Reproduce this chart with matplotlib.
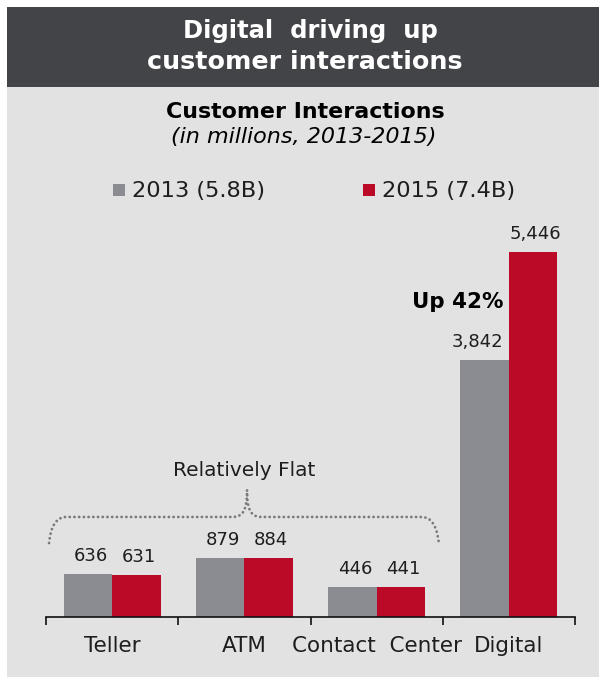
import matplotlib
matplotlib.use("Agg")
import matplotlib.pyplot as plt
from matplotlib.patches import Rectangle, PathPatch
from matplotlib.path import Path
import numpy as np

# Interaction counts in millions
categories = ["Teller", "ATM", "Contact  Center", "Digital"]
values_2013 = [636, 879, 446, 3842]
values_2015 = [631, 884, 441, 5446]
series_labels = ["2013 (5.8B)", "2015 (7.4B)"]

GRAY = "#8a8c92"
RED = "#bb0a27"
PANEL = "#e1e2e1"
HEADER = "#434447"
TEXT = "#1e1e1e"

W, H = 599, 677
fig = plt.figure(figsize=(W / 100, H / 100), dpi=100)
fig.patch.set_facecolor("white")


def fy(py):
    # pixel row (from top) -> figure fraction
    return 1 - py / H


# panel background and header bar
fig.add_artist(Rectangle((7 / W, 0), 1 - 7 / W, fy(87), transform=fig.transFigure,
                         facecolor=PANEL, edgecolor="none", zorder=-2))
fig.add_artist(Rectangle((7 / W, fy(87)), 1 - 7 / W, 80 / H, transform=fig.transFigure,
                         facecolor=HEADER, edgecolor="none", zorder=-1))

fig.text(310 / W, fy(38), "Digital  driving  up", color="white", fontsize=17.5,
         fontweight="bold", ha="center", va="baseline")
fig.text(305 / W, fy(69), "customer interactions", color="white", fontsize=18.3,
         fontweight="bold", ha="center", va="baseline")
fig.text(305.5 / W, fy(118), "Customer Interactions", color="black", fontsize=15.9,
         fontweight="bold", ha="center", va="baseline")
fig.text(303.5 / W, fy(143), "(in millions, 2013-2015)", color="black", fontsize=16,
         fontstyle="italic", ha="center", va="baseline")

# legend
for sx, col, lab in [(113, GRAY, series_labels[0]), (363, RED, series_labels[1])]:
    fig.add_artist(Rectangle((sx / W, fy(196)), 12 / W, 12 / H,
                             transform=fig.transFigure, facecolor=col, edgecolor="none"))
    fig.text((sx + 19) / W, fy(197), lab, fontsize=16.2, ha="left", va="baseline",
             color=TEXT)

# bars: baseline at row 617, 0.067 px per million
ax = fig.add_axes([46 / W, fy(617), (575 - 46) / W, (617 - 200) / H])
ax.set_facecolor("none")
x = np.arange(len(categories))
bw = 0.367
ax.bar(x - bw / 2, values_2013, bw, color=GRAY)
ax.bar(x + bw / 2, values_2015, bw, color=RED)
ax.set_xlim(-0.5, 3.5)
ax.set_ylim(0, (617 - 200) / 0.067)

for i in range(len(categories)):
    # the Digital 2013 label sits a little left, clear of the taller 2015 bar
    dx = -0.05 if i == 3 else 0.02
    ax.text(x[i] - bw / 2 + dx, values_2013[i] + 195, f"{values_2013[i]:,}",
            ha="center", va="baseline", fontsize=13, color=TEXT)
    ax.text(x[i] + bw / 2 + 0.02, values_2015[i] + 195, f"{values_2015[i]:,}",
            ha="center", va="baseline", fontsize=13, color=TEXT)

for s in ["top", "right", "left"]:
    ax.spines[s].set_visible(False)
ax.spines["bottom"].set_linewidth(1.2)
ax.spines["bottom"].set_color("#111111")
ax.set_yticks([])
ax.set_xticks(np.arange(-0.5, 4, 1))
ax.set_xticklabels([])
ax.tick_params(axis="x", which="major", length=6, width=1.2, direction="out",
               color="#111111")
ax.set_xticks(x, minor=True)
ax.set_xticklabels(categories, minor=True, fontsize=15.5, color=TEXT)
ax.tick_params(axis="x", which="minor", length=0, pad=14)

ax.text(3 - 0.04, (617 - 308) / 0.067, "Up 42%", ha="right", va="baseline",
        fontsize=15.4, fontweight="bold", color="black")

# dotted brace over the first three groups
x0, x1, xm = -0.477, 2.47, 1.02
y_end, y_h, y_pk = 1104, 1493, 1896
verts = [(x0, y_end), (x0 + 0.02, y_h), (x0 + 0.13, y_h),
         (xm - 0.11, y_h),
         (xm - 0.03, y_h), (xm, y_h + 100), (xm, y_pk),
         (xm, y_h + 100), (xm + 0.03, y_h), (xm + 0.11, y_h),
         (x1 - 0.13, y_h),
         (x1 - 0.02, y_h), (x1, y_end)]
codes = [Path.MOVETO, Path.CURVE3, Path.CURVE3, Path.LINETO,
         Path.CURVE4, Path.CURVE4, Path.CURVE4,
         Path.CURVE4, Path.CURVE4, Path.CURVE4, Path.LINETO,
         Path.CURVE3, Path.CURVE3]
ax.add_patch(PathPatch(Path(verts, codes), facecolor="none", edgecolor="#7a7a7a",
                       linewidth=2.0, linestyle=(0, (0.05, 1.65)), capstyle="round",
                       clip_on=False))
ax.text(0.997, (617 - 476) / 0.067, "Relatively Flat", ha="center", va="baseline",
        fontsize=14.5, color=TEXT)

fig.savefig("out.png", dpi=100)
